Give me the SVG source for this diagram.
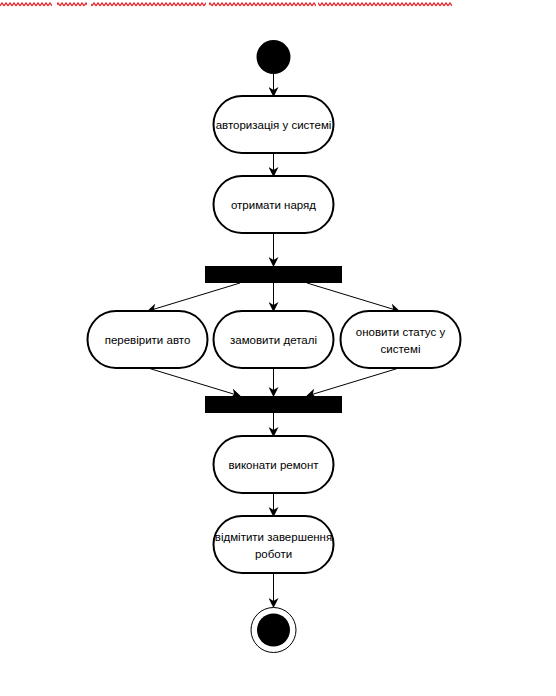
<svg xmlns="http://www.w3.org/2000/svg" width="556" height="696" viewBox="0 0 556 696">
<style>
.act{fill:#fff;stroke:#000;stroke-width:2}
.bar{fill:#000;stroke:none}
.lbl{font-family:"Liberation Sans",Arial,sans-serif;font-size:11.5px;fill:#000;text-anchor:middle}
.edge{stroke:#000;stroke-width:1;fill:none;marker-end:url(#arr)}
</style>
<defs>
<marker id="arr" viewBox="0 0 10 10" refX="9" refY="5" markerWidth="10" markerHeight="10" markerUnits="userSpaceOnUse" orient="auto">
<path d="M0,0 L10,5 L0,10 L3,5 Z" fill="#000"/>
</marker>
<pattern id="wave" x="0" y="2" width="4" height="5" patternUnits="userSpaceOnUse">
<path d="M0,4 L2,1 L4,4" stroke="#e8262b" stroke-width="1.3" fill="none"/>
</pattern>
</defs>
<g id="squiggles">
<rect x="0" y="2" width="52" height="5" fill="url(#wave)"/>
<rect x="57" y="2" width="30" height="5" fill="url(#wave)"/>
<rect x="91" y="2" width="115" height="5" fill="url(#wave)"/>
<rect x="209" y="2" width="107" height="5" fill="url(#wave)"/>
<rect x="318" y="2" width="134" height="5" fill="url(#wave)"/>
</g>
<g id="connectors">
<line class="edge" x1="273.5" y1="74" x2="273.5" y2="96"/>
<line class="edge" x1="273.5" y1="153" x2="273.5" y2="176"/>
<line class="edge" x1="273.5" y1="233" x2="273.5" y2="266"/>
<line class="edge" x1="240" y1="283" x2="148" y2="311"/>
<line class="edge" x1="273.5" y1="283" x2="273.5" y2="311"/>
<line class="edge" x1="307" y1="283" x2="399" y2="311"/>
<line class="edge" x1="148" y1="368" x2="240" y2="396"/>
<line class="edge" x1="273.5" y1="368" x2="273.5" y2="396"/>
<line class="edge" x1="399" y1="368" x2="307" y2="396"/>
<line class="edge" x1="273.5" y1="413" x2="273.5" y2="436"/>
<line class="edge" x1="273.5" y1="493" x2="273.5" y2="516"/>
<line class="edge" x1="273.5" y1="573" x2="273.5" y2="607"/>
</g>
<g id="start"><circle cx="273.5" cy="57" r="17" fill="#000"/></g>
<g id="a1"><rect class="act" x="213.5" y="96" width="120" height="57" rx="28.5"/><text class="lbl" x="273.5" y="129">авторизація у системі</text></g>
<g id="a2"><rect class="act" x="213.5" y="176" width="120" height="57" rx="28.5"/><text class="lbl" x="273.5" y="209">отримати наряд</text></g>
<g id="fork"><rect class="bar" x="205" y="266" width="137" height="17"/></g>
<g id="a3"><rect class="act" x="87.5" y="311" width="120" height="57" rx="28.5"/><text class="lbl" x="147.5" y="344">перевірити авто</text></g>
<g id="a4"><rect class="act" x="213.5" y="311" width="120" height="57" rx="28.5"/><text class="lbl" x="273.5" y="344">замовити деталі</text></g>
<g id="a5"><rect class="act" x="340.5" y="311" width="120" height="57" rx="28.5"/><text class="lbl" x="400.5" y="336">оновити статус у</text><text class="lbl" x="400.5" y="353">системі</text></g>
<g id="join"><rect class="bar" x="205" y="396" width="137" height="17"/></g>
<g id="a6"><rect class="act" x="213.5" y="436" width="120" height="57" rx="28.5"/><text class="lbl" x="273.5" y="469">виконати ремонт</text></g>
<g id="a7"><rect class="act" x="213.5" y="516" width="120" height="57" rx="28.5"/><text class="lbl" x="273.5" y="541">відмітити завершення</text><text class="lbl" x="273.5" y="558">роботи</text></g>
<g id="end"><circle cx="273.5" cy="630" r="22.5" fill="#fff" stroke="#000" stroke-width="1"/><circle cx="273.5" cy="630" r="16.5" fill="#000"/></g>
</svg>
